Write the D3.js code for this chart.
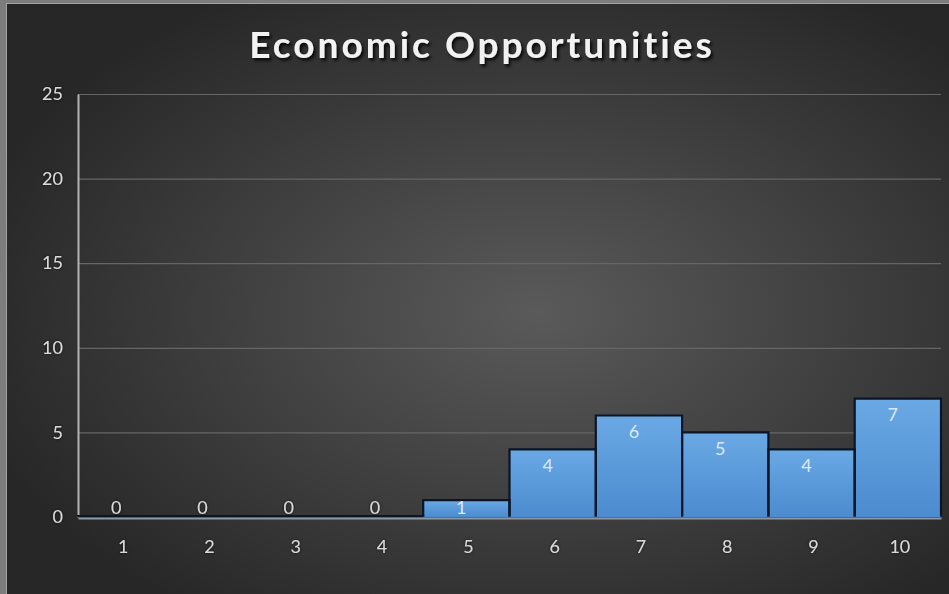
<!DOCTYPE html>
<html>
<head>
<meta charset="utf-8">
<script src="https://cdn.jsdelivr.net/npm/d3@7"></script>
<style>
  html, body { margin: 0; padding: 0; background: #7d7d7d; }
  svg { display: block; }
  text { font-family: Lato, "Open Sans", sans-serif; }
</style>
</head>
<body>
<svg id="chart" width="949" height="594"></svg>
<script>
// Ratings histogram data
const categories = ["1", "2", "3", "4", "5", "6", "7", "8", "9", "10"];
const counts = [0, 0, 0, 0, 1, 4, 6, 5, 4, 7];
const yTicks = [0, 5, 10, 15, 20, 25];
const title = "Economic Opportunities";

const W = 949, H = 594;
const plot = { left: 78, right: 941, top: 94, bottom: 517 };

const svg = d3.select("#chart");
const defs = svg.append("defs");

// background radial glow
const bg = defs.append("radialGradient").attr("id", "bgGrad")
  .attr("cx", "56%").attr("cy", "52%").attr("r", "62%");
bg.append("stop").attr("offset", "0%").attr("stop-color", "#5a5a5a");
bg.append("stop").attr("offset", "100%").attr("stop-color", "#272727");

// bar fill
const barGrad = defs.append("linearGradient").attr("id", "barGrad")
  .attr("x1", 0).attr("y1", 0).attr("x2", 0).attr("y2", 1);
barGrad.append("stop").attr("offset", "0%").attr("stop-color", "#6aa9e4");
barGrad.append("stop").attr("offset", "100%").attr("stop-color", "#4b8bcf");

// text shadows
const sh = defs.append("filter").attr("id", "titleShadow")
  .attr("x", "-10%").attr("y", "-30%").attr("width", "120%").attr("height", "160%");
sh.append("feDropShadow").attr("dx", 2).attr("dy", 2.5).attr("stdDeviation", 1.6)
  .attr("flood-color", "#000").attr("flood-opacity", 0.85);
const sh2 = defs.append("filter").attr("id", "labelShadow")
  .attr("x", "-30%").attr("y", "-30%").attr("width", "160%").attr("height", "160%");
sh2.append("feDropShadow").attr("dx", 0).attr("dy", 0).attr("stdDeviation", 1.4)
  .attr("flood-color", "#000").attr("flood-opacity", 0.7);

// chart panel
svg.append("rect").attr("x", 6.5).attr("y", 3.5).attr("width", W).attr("height", H)
  .attr("fill", "url(#bgGrad)").attr("stroke", "#a3a3a3").attr("stroke-width", 1);

const x = d3.scaleBand().domain(categories).range([plot.left, plot.right]).padding(0);
const y = d3.scaleLinear().domain([0, 25]).range([plot.bottom, plot.top]);

// gridlines
svg.append("g").selectAll("line").data(yTicks.filter(d => d > 0)).join("line")
  .attr("x1", plot.left).attr("x2", plot.right)
  .attr("y1", d => y(d) + 0.5).attr("y2", d => y(d) + 0.5)
  .attr("stroke", "#666").attr("stroke-width", 1.2);

// y axis
const yAxis = svg.append("g").attr("transform", `translate(${plot.left},0)`)
  .call(d3.axisLeft(y).tickValues(yTicks).tickSize(0).tickPadding(15));
yAxis.select(".domain").attr("stroke", "#b3b3b3").attr("stroke-width", 2);
yAxis.selectAll("text").attr("fill", "#d9d9d9").attr("font-size", 18)
  .attr("font-family", "Lato, sans-serif").attr("filter", "url(#labelShadow)");

const data = categories.map((c, i) => ({ c, v: counts[i] }));

// bars
const bars = svg.append("g");
bars.selectAll("rect").data(data.filter(d => d.v > 0)).join("rect")
  .attr("x", d => x(d.c)).attr("width", x.bandwidth())
  .attr("y", d => y(d.v)).attr("height", d => y(0) - y(d.v))
  .attr("fill", "url(#barGrad)");
bars.selectAll("path").data(data).join("path")
  .attr("d", d => {
    const x0 = x(d.c), x1 = x0 + x.bandwidth(), b = y(0) - 0.5, t = y(d.v) - (d.v ? 0 : 0.8);
    return `M${x0},${b}V${t}H${x1}V${b}`;
  })
  .attr("fill", "none").attr("stroke", "#0b1526").attr("stroke-width", 2.2);

// x axis
const xAxis = svg.append("g").attr("transform", `translate(0,${plot.bottom + 1})`)
  .call(d3.axisBottom(x).tickSize(0).tickPadding(22));
xAxis.select(".domain").attr("stroke", "#8d99a6").attr("stroke-width", 2);
xAxis.selectAll("text").attr("fill", "#d9d9d9").attr("font-size", 18)
  .attr("font-family", "Lato, sans-serif").attr("dx", 2)
  .attr("filter", "url(#labelShadow)");

// value labels
svg.append("g").selectAll("text").data(data).join("text")
  .attr("x", d => x(d.c) + x.bandwidth() / 2 - 5)
  .attr("y", d => Math.min(y(d.v) + 16.5, 508))
  .attr("dy", "0.35em")
  .attr("text-anchor", "middle")
  .attr("font-size", 18)
  .attr("fill", d => d.v > 0 ? "#dbe9f7" : "#d9d9d9")
  .attr("filter", d => d.v > 0 ? null : "url(#labelShadow)")
  .text(d => d.v);

// title
svg.append("text").attr("x", 482).attr("y", 58)
  .attr("text-anchor", "middle")
  .attr("font-size", 37).attr("font-weight", 700)
  .attr("fill", "#f2f2f2").attr("letter-spacing", 3)
  .attr("filter", "url(#titleShadow)")
  .text(title);
</script>
</body>
</html>
